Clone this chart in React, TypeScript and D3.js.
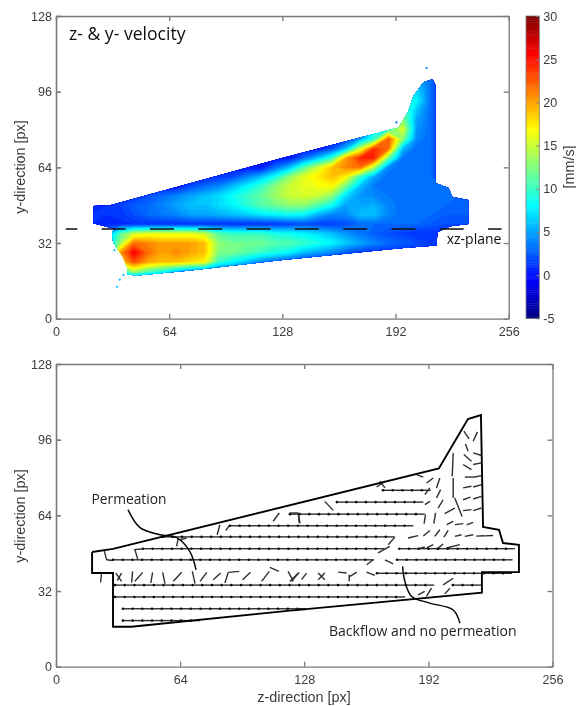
import React, { useEffect, useRef } from 'react';
import * as d3 from 'd3';

// axis ticks
const zTicks = [0, 64, 128, 192, 256];
const yTicks = [0, 32, 64, 96, 128];
const barTicks = [-5, 0, 5, 10, 15, 20, 25, 30];

// velocity [mm/s], rows y = 108 ... 12 (step 4), columns z = 12 ... 236 (step 8)
const gridZ0 = 12;
const gridY0 = 108;
const velocity = [
  [0,0,0,0,0,0,0,0,0,0,0,0,0,0,0,0,0,0,0,0,0,0,0,0,3,3,0,0,0],
  [0,0,0,0,0,0,0,0,0,0,0,0,0,0,0,0,0,0,0,0,0,0,0,2,4,3,0,0,0],
  [0,0,0,0,0,0,0,0,0,0,0,0,0,0,0,0,0,0,0,0,0,0,0,6,6,3,0,0,0],
  [0,0,0,0,0,0,0,0,0,0,0,0,0,0,0,0,0,0,0,0,0,0,0,8,7,3,0,0,0],
  [0,0,0,0,0,0,0,0,0,0,0,0,0,0,0,0,0,0,0,0,0,0,5,10,8,3,0,0,0],
  [0,0,0,0,0,0,0,0,0,0,0,0,0,0,0,0,0,0,0,0,0,0,10,12,6,3,0,0,0],
  [0,0,0,0,0,0,0,0,0,0,0,0,0,0,0,0,0,0,0,0,0,3,12,13,5,3,0,0,0],
  [0,0,0,0,0,0,0,0,0,0,0,0,0,0,0,0,0,0,0,0,2,8,10,16,4.5,3,0,0,0],
  [0,0,0,0,0,0,0,0,0,0,0,0,0,0,0,0,0,0,0,1,5,10,23,13,4,3,0,0,0],
  [0,0,0,0,0,0,0,0,0,0,0,0,0,0,0,0,0,0,2,6,15,24,22,6,3,3,0,0,0],
  [0,0,0,0,0,0,0,0,0,0,0,0,0,0,0,0,3,6,10,20,24.5,25,12,3.5,3,3,0,0,0],
  [0,0,0,0,0,0,0,0,0,0,0,0,0,0,3,6,11,15,19,21,22,14,4,3,3,3,0,0,0],
  [0,0,0,0,0,0,0,0,0,0.5,1.2,2,4,6,9,13,16,17.5,19,17,10,5,3,3,3,3,0,0,0],
  [0,0,0,0,0,0,0,0,2,3,4,6,8,10,13,15,16,16.5,17,12,6,3.5,3,3,3,3,3,0,0],
  [0,0,0,0,1,2,3,4,5,6,7,8.5,10,11.5,13.5,15,15.5,15,13,7,4.5,4,3.5,3,3,3,3,3,0],
  [0,0.8,1,1.5,2.5,3,4,5,6,6,7,8,9.5,11,12,13,13,11,8.5,5,5,5.5,4,3,3,3,3,2.5,2.5],
  [0,1,1,1.2,2,3,3.5,4,5,5,5.5,6,6.5,7.5,8,8.5,8,5.5,4,4,6,6,4,3,3,3,2.5,2.5,2.5],
  [0,1,0.8,0.8,1,1,1,1,1,1,1,1,1,1,1.2,1.5,2,1.5,1.5,2,3,3,3,3,3,2.5,2,2,2],
  [0,0,3,11,15,16,16,16,16,15,11,10,10,10,9,8.5,8,7,6,4.5,3.5,2.5,2,1.5,1,1,1,0,0],
  [0,0,5,13,22,21,20,20,20,19,13,12,12,12,11,11,10,9,8,6.5,5,4,3,2.5,2,1.5,1,0,0],
  [0,0,0,20,26,22,20,21,20,19,12.5,12,11,10,9,8,6,5,4,2.5,1.5,1,1,1,1,1,0,0,0],
  [0,0,0,18,23,20,19,19,18,17,10,8,6,4,2.5,1.5,0.5,0,0,0,0,0,0,0,0,0,0,0,0],
  [0,0,0,8,14,11,9,6,3.5,2.5,1.5,0.5,0,0,0,0,0,0,0,0,0,0,0,0,0,0,0,0,0],
  [0,0,0,1,1,0,0,0,0,0,0,0,0,0,0,0,0,0,0,0,0,0,0,0,0,0,0,0,0],
  [0,0,0,0,0,0,0,0,0,0,0,0,0,0,0,0,0,0,0,0,0,0,0,0,0,0,0,0,0],
];

// outline of the measured region in the upper panel, [z, y]
const velocityOutline = [
  [21, 47.7], [30.6, 48], [126.8, 67.7], [193.7, 80.9], [199.3, 87.7], [202, 94], [207.8, 100], [212.9, 101.3],
  [214.6, 98.7], [214.6, 57.4], [222, 55.3], [224.2, 51.5], [233.3, 50.2], [233.3, 40], [223, 39.1], [215.7, 36.6],
  [215.2, 31], [194.8, 29.8], [126.8, 24.7], [75.9, 20.4], [45.9, 18.3], [40.2, 18.7], [40.2, 21.7], [37.9, 26],
  [32.3, 32.3], [31.7, 36.6], [32.8, 37.9], [27.7, 39.1], [21, 40.4],
];
// stray pixels outside the outline, [z, y, velocity]
const strayPixels = [
  [34.5, 13.5, 6], [36, 16.5, 6], [38, 18.5, 6], [33, 29, 6], [209.5, 106, 4], [192.5, 83, 3],
];
// the xz-plane marker
const planeY = 37.9;
const planeZ = [5.5, 252];

// outline of the lower panel, [z, y]
const planOutline = [
  [18.6, 48.5], [29.4, 49.8], [197.4, 83.8], [212.4, 104.7], [219.1, 106.4], [220.2, 59.1], [228.4, 57.9], [230.5, 52.3],
  [238.7, 51.5], [238.7, 40], [219.6, 40], [219.6, 31.3], [120.6, 23.7], [38.8, 16.9], [29.4, 16.9], [29.4, 39.6],
  [18.6, 39.6], [18.6, 48.5],
];

// regular quiver rows: y of the row, first z, last z
const rowY =   [19.5, 24.5, 29.5, 34.5, 34.5, 39.5, 45.2, 45.2, 49.9, 49.9, 54.9, 59.6, 64.5, 69.6, 74.6];
const rowFrom = [34.5, 34.5, 30.4, 30.4, 204.6, 165.5, 29.4, 175.8, 44.8, 177, 55, 89.7, 120.6, 144.8, 168.6];
const rowTo =   [70.6, 125, 177, 194, 219.6, 234, 163.4, 235, 167, 234, 172, 184, 189, 189, 189];

// vectors off the regular rows, [z, y, u, v]
const looseVectors = [
  [210.3,99.6,2.7,-3.3],[217.3,99.3,-2.2,-4],[211.1,94.2,1.4,-3.1],[210.3,89.7,3.9,-2.8],[215.1,90.4,4.3,-1.1],
  [209.9,85.5,4.3,-2.2],[215.1,85.5,4.3,0.7],[210.8,80.2,5.2,0],[215.9,80.2,3.4,0.6],[209.9,75.6,4.3,0.7],
  [215.1,76,4.3,1],[209.9,70.6,3.8,1.1],[215.1,70.9,4.3,1.1],[209.9,66,4.3,0.4],[215.1,66,4.3,1.1],
  [204.8,90.4,-0.5,-9.9],[204.8,79.8,0,-8.5],[205.6,71.3,3.8,-7.8],[197.9,79.8,-1.7,-4.2],[194.5,79.8,-3.4,-2.1],
  [198.3,74.9,-2.1,-3.5],[192.8,75.6,-2.6,-2.8],[199.6,70.6,-2.6,-3.5],[192.8,69.9,-2.6,-1.4],[205.6,67.1,-5.2,-2.4],
  [195.7,65,-0.9,-4.5],[190.5,64.3,-0.7,-3.8],[204.8,61.5,-3.4,-1.4],[210,60.5,-4.3,-0.4],[215.1,61,-3.4,-1],
  [202.2,57.6,-2.2,-2.8],[197.9,57.9,-2.6,-2.8],[192.8,57.6,-3.4,-2.3],[186.7,55.4,-5.2,-1],[209.1,55.8,-3.4,-0.7],
  [215.1,55.8,-4.3,-0.7],[225.4,55.5,-4.3,-0.2],[221,55.4,-4.3,-0.2],[199.6,51.9,-3.4,-2.4],[194.5,51.6,-3.4,-1.4],
  [190.2,50.6,-3.4,-0.7],[208.2,51.6,-6.9,-1.4],[174.7,54.8,-3.4,-3.2],[172.1,50.9,-6,-2.8],[163.6,45.2,-3.4,-2.1],
  [169.6,45.2,4.3,-1.7],[138.6,69.9,4.3,-3.8],[124.9,65,0.9,-4.5],[167,78.4,2.6,-2.8],[165.3,76,4.3,2.4],
  [185.9,81.2,3.4,-1],[120.6,36,4.3,3.5],[126.6,36.8,2.6,2.8],[135.2,39.6,3.4,-2.8],[138.6,39.6,-3.4,-2.8],
  [145.5,40,4.3,-0.4],[155,40,-3.4,-1.8],[151.2,38.9,0,-2.8],[160.1,40,4.3,-1.4],[186.7,30.4,3.4,1.4],
  [191,29.7,2.6,3.5],[200.5,30.8,2.6,2.4],[199.6,34.6,5.2,2.8],[24.9,49,1.2,-3.8],[26.1,45.2,3.1,-0.3],
  [40.2,49.5,4,0.3],[40.7,49.5,1.4,-4],[23.5,39.6,-0.5,-4],[30.9,39.6,2.9,-3.5],[33.8,39.6,-2.2,-3.1],
  [39.5,40.3,-0.5,-4.7],[44.7,39.9,-4,-3.8],[49.8,39.9,-0.9,-4.5],[55,39.9,1.2,-4.8],[64.8,39.9,-4.3,-3.8],
  [70.3,40.3,1.4,-5.2],[77.7,39.9,-3.4,-3.8],[84.9,39.6,-3.8,-2.8],[88.8,39.9,-1.7,-4.5],[88.8,39.9,5.7,0.4],
  [100.3,39.9,-4.1,-3.1],[110,40.3,-4,-4.2],[110.3,42,4.6,-1.7],[119.7,40.3,2.6,-4.2],[125.4,39.9,-4,-3.8],
  [84.5,60,-1.4,-4.2],[89.7,60,-2.2,-2.4],[115.1,65,-3.1,-3.5],[120.6,65,4.3,0],[124.9,65,0.5,-4.2],
  [63.1,54.4,-0.9,-3.5],[67.3,54.4,-3.4,-0.7],
];

// annotation leader lines, [z, y]
const permeationLeader = [[37.1, 66.4], [43.3, 58.8], [53.6, 55.8], [62.4, 54.5], [69.1, 48.6], [72.2, 41]];
const backflowLeader = [[178.7, 42.4], [179.9, 36], [183.4, 29.7], [192.8, 26.9], [204.8, 24], [208.3, 18.4]];

const jet = (v: number) => {
  const t = (v + 5) / 35;
  const c = (d: number) => Math.round(255 * Math.max(0, Math.min(1, 1.5 - Math.abs(4 * t - d))));
  return `rgb(${c(3)},${c(2)},${c(1)})`;
};

const sans = '"Liberation Sans", Arial, sans-serif';
const note = '"Open Sans", "Noto Sans", sans-serif';
const axisGrey = '#7a7a7a';

const App = () => {
  const ref = useRef<SVGSVGElement>(null);

  useEffect(() => {
    const svg = d3.select(ref.current);
    svg.selectAll('*').remove();

    const defs = svg.append('defs');
    const addBlur = (id: string, amount: number) => {
      defs.append('filter').attr('id', id).attr('filterUnits', 'userSpaceOnUse')
        .attr('x', 0).attr('y', 0).attr('width', 576).attr('height', 706)
        .append('feGaussianBlur').attr('stdDeviation', amount);
    };
    addBlur('soft', 0.55);
    addBlur('softer', 0.7);

    const root = svg.append('g').attr('filter', 'url(#soft)');

    // scales
    const x1 = d3.scaleLinear().domain([0, 256]).range([56, 508.7]);
    const y1 = d3.scaleLinear().domain([0, 128]).range([318.7, 16]);
    const x2 = d3.scaleLinear().domain([0, 256]).range([56, 552.5]);
    const y2 = d3.scaleLinear().domain([0, 128]).range([666.7, 364]);
    const cy = d3.scaleLinear().domain([-5, 30]).range([318.3, 16]);

    const drawFrame = (x: any, y: any) => {
      const [x0, xw] = x.range();
      const [yb, yt] = y.range();
      const axes = [
        d3.axisBottom(x).tickValues(zTicks).tickSizeInner(-5).tickSizeOuter(0).tickPadding(8),
        d3.axisLeft(y).tickValues(yTicks).tickSizeInner(-5).tickSizeOuter(0).tickPadding(4),
        d3.axisTop(x).tickValues(zTicks).tickSizeInner(-5).tickSizeOuter(0).tickFormat(() => ''),
        d3.axisRight(y).tickValues(yTicks).tickSizeInner(-5).tickSizeOuter(0).tickFormat(() => ''),
      ];
      const shifts = [`translate(0,${yb})`, `translate(${x0},0)`, `translate(0,${yt})`, `translate(${xw},0)`];
      axes.forEach((axis, i) => {
        const g = root.append('g').attr('transform', shifts[i]).call(axis as any);
        g.attr('font-family', sans).attr('font-size', 12.6);
        g.selectAll('path,line').attr('stroke', axisGrey).attr('stroke-width', i === 1 ? 1.6 : 1.3);
        g.selectAll('text').attr('fill', '#3c3c3c');
      });
    };

    // upper panel, velocity field
    const rows = velocity.length;
    const cols = velocity[0].length;
    const bands = d3.contours()
      .size([cols, rows])
      .thresholds(d3.range(-5, 30, 0.5))(velocity.flat());
    const toPanel = d3.geoTransform({
      point(cx: number, cr: number) {
        (this as any).stream.point(x1(gridZ0 + (cx - 0.5) * 8), y1(gridY0 - (cr - 0.5) * 4));
      },
    });
    const bandPath = d3.geoPath(toPanel);
    const shape1 = d3.line<number[]>().x(d => x1(d[0])).y(d => y1(d[1]))(velocityOutline) + 'Z';
    defs.append('clipPath').attr('id', 'field').append('path').attr('d', shape1);

    const field = root.append('g').attr('filter', 'url(#softer)').append('g').attr('clip-path', 'url(#field)');
    field.selectAll('path').data(bands).enter().append('path')
      .attr('d', d => bandPath(d as any))
      .attr('fill', d => jet(d.value + 0.25));

    root.append('g').selectAll('circle').data(strayPixels).enter().append('circle')
      .attr('cx', d => x1(d[0])).attr('cy', d => y1(d[1])).attr('r', 1.1)
      .attr('fill', d => jet(d[2]));

    drawFrame(x1, y1);

    // xz-plane marker
    root.append('line')
      .attr('x1', x1(planeZ[0])).attr('x2', x1(planeZ[1]))
      .attr('y1', y1(planeY)).attr('y2', y1(planeY))
      .attr('stroke', '#111').attr('stroke-width', 1.5)
      .attr('stroke-dasharray', '24 24.3').attr('stroke-dashoffset', 12.4);

    root.append('text').attr('x', 69).attr('y', 40).attr('font-family', note).attr('font-size', 17.6)
      .attr('fill', '#111').text('z- & y- velocity');
    root.append('text').attr('x', 446.7).attr('y', 244).attr('font-family', note).attr('font-size', 14)
      .attr('fill', '#111').text('xz-plane');
    root.append('text').attr('transform', 'translate(25,167) rotate(-90)').attr('text-anchor', 'middle')
      .attr('font-family', sans).attr('font-size', 14.4).attr('fill', '#3c3c3c').text('y-direction [px]');

    // colour bar
    const bar = root.append('g');
    bar.selectAll('rect').data(d3.range(-5, 30, 0.25)).enter().append('rect')
      .attr('x', 526).attr('width', 13.3)
      .attr('y', d => cy(d + 0.25)).attr('height', d => cy(d) - cy(d + 0.25) + 0.4)
      .attr('fill', d => jet(d + 0.125));
    bar.append('rect').attr('x', 526).attr('y', 16).attr('width', 13.3).attr('height', 302.3)
      .attr('fill', 'none').attr('stroke', axisGrey).attr('stroke-width', 0.8);
    const barAxis = root.append('g').attr('transform', 'translate(539.3,0)')
      .call(d3.axisRight(cy).tickValues(barTicks).tickSizeInner(-3).tickSizeOuter(0).tickPadding(4).tickFormat(d => String(d)) as any);
    barAxis.attr('font-family', sans).attr('font-size', 12.6);
    barAxis.select('.domain').remove();
    barAxis.selectAll('line').attr('stroke', axisGrey);
    barAxis.selectAll('text').attr('fill', '#3c3c3c');
    root.append('text').attr('transform', 'translate(574,167) rotate(-90)').attr('text-anchor', 'middle')
      .attr('font-family', sans).attr('font-size', 14.4).attr('fill', '#3c3c3c').text('[mm/s]');

    // lower panel, quiver
    drawFrame(x2, y2);
    root.append('text').attr('transform', 'translate(25,516) rotate(-90)').attr('text-anchor', 'middle')
      .attr('font-family', sans).attr('font-size', 14.4).attr('fill', '#3c3c3c').text('y-direction [px]');
    root.append('text').attr('x', 304).attr('y', 702).attr('text-anchor', 'middle')
      .attr('font-family', sans).attr('font-size', 14.4).attr('fill', '#3c3c3c').text('z-direction [px]');

    const vectors: number[][] = [];
    rowY.forEach((y, i) => {
      d3.range(rowFrom[i], rowTo[i], 5).forEach(z => vectors.push([z, y, 4.6, 0]));
    });
    const quiver = root.append('g');
    quiver.selectAll('line').data([...vectors, ...looseVectors]).enter().append('line')
      .attr('x1', d => x2(d[0])).attr('y1', d => y2(d[1]))
      .attr('x2', d => x2(d[0] + d[2])).attr('y2', d => y2(d[1] + d[3]))
      .attr('stroke', '#2e2e2e').attr('stroke-width', 1.4);
    quiver.selectAll('circle').data(vectors).enter().append('circle')
      .attr('cx', d => x2(d[0])).attr('cy', d => y2(d[1])).attr('r', 1.3)
      .attr('fill', '#111');

    const planLine = d3.line<number[]>().x(d => x2(d[0])).y(d => y2(d[1]));
    root.append('path').attr('d', planLine(planOutline))
      .attr('fill', 'none').attr('stroke', '#000').attr('stroke-width', 1.9);

    const leader = d3.line<number[]>().x(d => x2(d[0])).y(d => y2(d[1])).curve(d3.curveCatmullRom.alpha(0.5));
    [permeationLeader, backflowLeader].forEach(points => {
      root.append('path').attr('d', leader(points))
        .attr('fill', 'none').attr('stroke', '#000').attr('stroke-width', 1.4);
    });

    root.append('text').attr('x', 91.5).attr('y', 504).attr('font-family', note).attr('font-size', 13.8)
      .attr('fill', '#222').text('Permeation');
    root.append('text').attr('x', 329).attr('y', 636).attr('font-family', note).attr('font-size', 14)
      .attr('fill', '#222').text('Backflow and no permeation');
  }, []);

  return <svg ref={ref} width={576} height={706} style={{ position: 'absolute', left: 0, top: 0, background: '#fff' }} />;
};

export default App;
